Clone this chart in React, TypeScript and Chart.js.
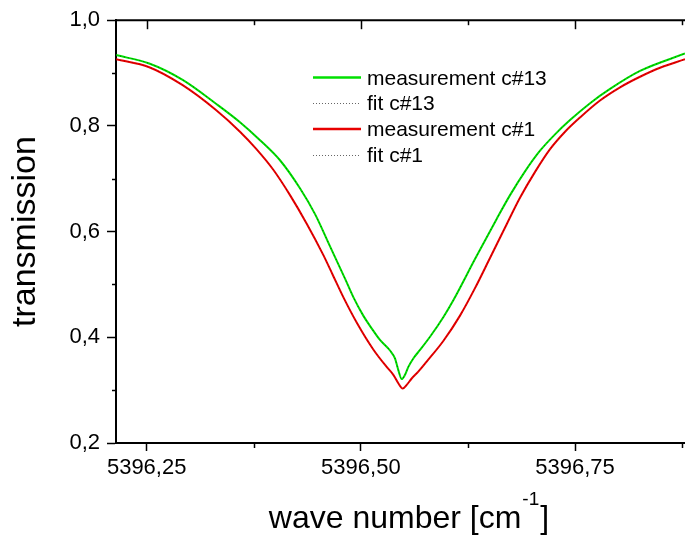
import React, { useEffect, useRef } from "react";
import { Chart, registerables } from "chart.js";

Chart.register(...registerables);

// ---- data ----
const waveC13 = [
  5396.2142, 5396.253, 5396.292, 5396.3309, 5396.3589, 5396.3823, 5396.4056,
  5396.4289, 5396.4465, 5396.464, 5396.4815, 5396.4912, 5396.5028, 5396.513,
  5396.5223, 5396.534, 5396.5398, 5396.5437, 5396.5477, 5396.5515, 5396.5554,
  5396.5612, 5396.569, 5396.5807, 5396.5962, 5396.6079, 5396.6332, 5396.6585,
  5396.6741, 5396.6916, 5396.7091, 5396.7266, 5396.7441, 5396.7675, 5396.7908,
  5396.8258, 5396.8783,
];
const transC13 = [
  0.934, 0.918, 0.887, 0.842, 0.807, 0.773, 0.735, 0.682, 0.633, 0.572, 0.511,
  0.476, 0.441, 0.416, 0.395, 0.375, 0.36, 0.338, 0.321, 0.329, 0.344, 0.36,
  0.376, 0.401, 0.438, 0.47, 0.548, 0.624, 0.669, 0.714, 0.753, 0.784, 0.811,
  0.843, 0.87, 0.904, 0.937,
];
const waveC1 = [
  5396.2142, 5396.253, 5396.292, 5396.3309, 5396.3589, 5396.3776, 5396.3978,
  5396.4173, 5396.4368, 5396.4561, 5396.4675, 5396.4795, 5396.4951, 5396.5145,
  5396.5301, 5396.5379, 5396.5437, 5396.5488, 5396.5535, 5396.5593, 5396.567,
  5396.5768, 5396.5962, 5396.6157, 5396.6332, 5396.6507, 5396.6702, 5396.6857,
  5396.7033, 5396.7208, 5396.7383, 5396.7558, 5396.7791, 5396.8025, 5396.8258,
  5396.8492, 5396.8783,
];
const transC1 = [
  0.926, 0.911, 0.877, 0.83, 0.789, 0.757, 0.717, 0.669, 0.615, 0.556, 0.517,
  0.476, 0.428, 0.377, 0.344, 0.329, 0.313, 0.303, 0.31, 0.322, 0.335, 0.354,
  0.393, 0.441, 0.493, 0.55, 0.614, 0.664, 0.713, 0.756, 0.789, 0.816, 0.848,
  0.873, 0.893, 0.91, 0.926,
];

const seriesLabels = ["measurement c#13", "fit c#13", "measurement c#1", "fit c#1"];
const xTitleMain = "wave number [cm";
const xTitleSup = "-1";
const xTitleEnd = "]";
const yTitle = "transmission";

const xMin = 5396.2142;
const xMax = 5396.8783;
const yMin = 0.2;
const yMax = 1.0;
const xMajorStep = 0.25;
const xMinorStep = 0.125;
const yMajorStep = 0.2;
const yMinorStep = 0.1;

const FONT = "'Liberation Sans', Arial, Helvetica, sans-serif";
const GREEN = "#00e000";
const RED = "#e80000";

const toPoints = (xs: number[], ys: number[]) => xs.map((x, i) => ({ x, y: ys[i] }));

const decorPlugin = {
  id: "decor",
  afterDraw(chart: any) {
    const { ctx, chartArea, scales } = chart;
    const { left, right, top, bottom } = chartArea;
    const xs = scales.x;
    const ys = scales.y;
    ctx.save();
    ctx.strokeStyle = "#000";
    const seg = (x1: number, y1: number, x2: number, y2: number) => {
      ctx.beginPath();
      ctx.moveTo(x1, y1);
      ctx.lineTo(x2, y2);
      ctx.stroke();
    };
    // top frame line
    ctx.lineWidth = 2;
    seg(left, top, right, top);
    ctx.lineWidth = 1.5;
    // x ticks: top inward (major + minor), bottom minor outward
    const k0 = Math.ceil(xMin / xMinorStep - 1e-9);
    for (let k = k0; k * xMinorStep <= xMax + 1e-9; k++) {
      const v = k * xMinorStep;
      const px = Math.round(xs.getPixelForValue(v)) + 0.5;
      const r = v / xMajorStep;
      const major = Math.abs(r - Math.round(r)) < 1e-6;
      seg(px, top, px, top + (major ? 9 : 5));
      if (!major) seg(px, bottom, px, bottom + 5);
    }
    // y minor ticks outward
    const j0 = Math.ceil(yMin / yMinorStep - 1e-9);
    for (let j = j0; j * yMinorStep <= yMax + 1e-9; j++) {
      const v = j * yMinorStep;
      const r = v / yMajorStep;
      if (Math.abs(r - Math.round(r)) < 1e-6) continue;
      const py = Math.round(ys.getPixelForValue(v)) + 0.5;
      seg(left - 4, py, left, py);
    }

    // legend
    const ds = chart.data.datasets;
    const order = [2, 0, 3, 1]; // dataset indices in legend order
    const rowY = [77.5, 103, 129, 154.5];
    ctx.font = `21px ${FONT}`;
    ctx.fillStyle = "#000";
    ctx.textBaseline = "alphabetic";
    ctx.textAlign = "left";
    order.forEach((di, i) => {
      const d = ds[di];
      const yRow = rowY[i];
      ctx.save();
      if (d.borderDash && d.borderDash.length) {
        ctx.strokeStyle = "#666";
        ctx.lineWidth = 1;
        ctx.setLineDash([1, 2]);
        seg(313, Math.round(yRow) + 0.5, 361, Math.round(yRow) + 0.5);
      } else {
        ctx.strokeStyle = d.borderColor;
        ctx.lineWidth = 2.5;
        seg(313, yRow, 361, yRow);
      }
      ctx.restore();
      ctx.fillText(d.label, 367, yRow + 7);
    });

    // x-axis title with superscript
    ctx.font = `32px ${FONT}`;
    const w1 = ctx.measureText(xTitleMain).width;
    const w3 = ctx.measureText(xTitleEnd).width;
    ctx.font = `19px ${FONT}`;
    const w2 = ctx.measureText(xTitleSup).width;
    const total = w1 + w2 + w3 + 2;
    let x0 = 409 - total / 2;
    const base = 528;
    ctx.font = `32px ${FONT}`;
    ctx.fillText(xTitleMain, x0, base);
    x0 += w1 + 1;
    ctx.font = `19px ${FONT}`;
    ctx.fillText(xTitleSup, x0, base - 23);
    x0 += w2 + 1;
    ctx.font = `32px ${FONT}`;
    ctx.fillText(xTitleEnd, x0, base);
    ctx.restore();
  },
};

export default function App() {
  const ref = useRef<HTMLCanvasElement | null>(null);
  useEffect(() => {
    if (!ref.current) return;
    const chart = new Chart(ref.current, {
      type: "line",
      data: {
        datasets: [
          {
            label: seriesLabels[1],
            data: toPoints(waveC13, transC13),
            borderColor: "rgba(0,0,0,0.55)",
            borderWidth: 1,
            borderDash: [1, 3],
            pointRadius: 0,
            cubicInterpolationMode: "monotone",
            order: 0,
          },
          {
            label: seriesLabels[3],
            data: toPoints(waveC1, transC1),
            borderColor: "rgba(0,0,0,0.35)",
            borderWidth: 1,
            borderDash: [1, 3],
            pointRadius: 0,
            cubicInterpolationMode: "monotone",
            order: 0,
          },
          {
            label: seriesLabels[0],
            data: toPoints(waveC13, transC13),
            borderColor: GREEN,
            borderWidth: 2,
            pointRadius: 0,
            cubicInterpolationMode: "monotone",
            order: 1,
          },
          {
            label: seriesLabels[2],
            data: toPoints(waveC1, transC1),
            borderColor: RED,
            borderWidth: 2,
            pointRadius: 0,
            cubicInterpolationMode: "monotone",
            order: 1,
          },
        ],
      },
      options: {
        animation: false,
        responsive: false,
        devicePixelRatio: 1,
        layout: { padding: { top: 20, left: 0, right: 0, bottom: 0 } },
        plugins: { legend: { display: false }, tooltip: { enabled: false } },
        scales: {
          x: {
            type: "linear",
            min: xMin,
            max: xMax,
            afterFit: (s: any) => {
              s.height = 94;
            },
            ticks: {
              stepSize: xMajorStep,
              includeBounds: false,
              autoSkip: false,
              maxRotation: 0,
              padding: 4,
              color: "#000",
              font: { family: FONT, size: 22 },
              callback: (v: any) => Number(v).toFixed(2).replace(".", ","),
            },
            grid: {
              display: true,
              drawOnChartArea: false,
              drawTicks: true,
              tickLength: 8,
              tickColor: "#000",
              tickWidth: 1.5,
            },
            border: { display: true, color: "#000", width: 2 },
          },
          y: {
            type: "linear",
            min: yMin,
            max: yMax,
            afterFit: (s: any) => {
              s.width = 116;
            },
            ticks: {
              stepSize: yMajorStep,
              padding: 7,
              color: "#000",
              font: { family: FONT, size: 22 },
              callback: (v: any) => Number(v).toFixed(1).replace(".", ","),
            },
            grid: {
              display: true,
              drawOnChartArea: false,
              drawTicks: true,
              tickLength: 9,
              tickColor: "#000",
              tickWidth: 1.5,
            },
            border: { display: true, color: "#000", width: 2 },
            title: {
              display: true,
              text: yTitle,
              color: "#000",
              font: { family: FONT, size: 34 },
              padding: { top: 5, bottom: 0 },
            },
          },
        },
      },
      plugins: [decorPlugin],
    } as any);
    return () => chart.destroy();
  }, []);
  return (
    <div style={{ position: "absolute", left: 0, top: 0, width: 685, height: 537, background: "#fff" }}>
      <canvas ref={ref} width={685} height={537} style={{ display: "block" }} />
    </div>
  );
}
